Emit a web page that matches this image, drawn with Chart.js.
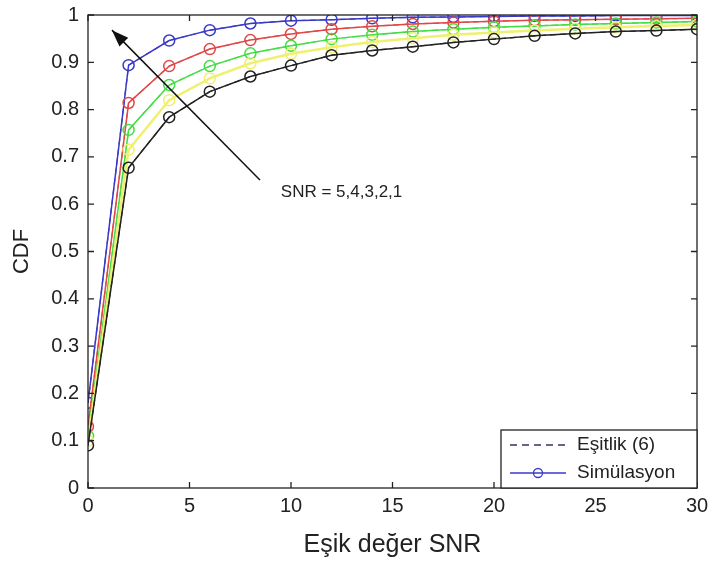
<!DOCTYPE html>
<html lang="tr">
<head>
    <meta charset="UTF-8">
    <title>CDF - Eşik değer SNR</title>
    <script src="https://cdn.jsdelivr.net/npm/chart.js"></script>
    <style>
        body { margin: 0; background: #fff; }
        #wrap { width: 710px; height: 565px; }
    </style>
</head>
<body>
    <div id="wrap"><canvas id="cdfChart" width="710" height="565"></canvas></div>

    <script>
        // threshold SNR values on the x axis
        const thresholds = [0, 2, 4, 6, 8, 10, 12, 14, 16, 18, 20, 22, 24, 26, 28, 30];
        // CDF per average SNR
        const snr5 = [0.18, 0.894, 0.946, 0.968, 0.982, 0.988, 0.990, 0.993, 0.995, 0.996, 0.997, 0.998, 0.998, 0.999, 0.999, 0.999];
        const snr4 = [0.13, 0.814, 0.892, 0.928, 0.947, 0.960, 0.970, 0.976, 0.981, 0.984, 0.987, 0.989, 0.990, 0.991, 0.992, 0.993];
        const snr3 = [0.11, 0.757, 0.852, 0.892, 0.919, 0.935, 0.949, 0.958, 0.965, 0.970, 0.974, 0.977, 0.980, 0.982, 0.984, 0.986];
        const snr2 = [0.10, 0.715, 0.820, 0.866, 0.898, 0.918, 0.932, 0.943, 0.951, 0.958, 0.963, 0.967, 0.971, 0.974, 0.977, 0.979];
        const snr1 = [0.09, 0.677, 0.784, 0.838, 0.870, 0.893, 0.915, 0.925, 0.933, 0.942, 0.949, 0.956, 0.961, 0.965, 0.967, 0.970];
        const xTicks = [0, 5, 10, 15, 20, 25, 30];
        const yTicks = [0, 0.1, 0.2, 0.3, 0.4, 0.5, 0.6, 0.7, 0.8, 0.9, 1];

        const curves = [
            { name: "SNR=1", vals: snr1, color: "#222222", width: 1.5 },
            { name: "SNR=2", vals: snr2, color: "#f0f070", width: 2.5 },
            { name: "SNR=3", vals: snr3, color: "#44dd44", width: 1.5 },
            { name: "SNR=4", vals: snr4, color: "#e04848", width: 1.5 },
            { name: "SNR=5", vals: snr5, color: "#3a3ac8", width: 1.5 }
        ];

        const toPoints = vals => thresholds.map((x, i) => ({ x: x, y: vals[i] }));

        let datasets = [];
        curves.forEach(c => {
            // Eşitlik (6) - dashed
            datasets.push({
                label: c.name + " eq",
                data: toPoints(c.vals),
                borderColor: c.color,
                borderWidth: 1.2,
                borderDash: [6, 4],
                pointRadius: 0,
                fill: false
            });
            // Simülasyon - solid with circles
            datasets.push({
                label: c.name + " sim",
                data: toPoints(c.vals),
                borderColor: c.color,
                borderWidth: c.width,
                pointRadius: 5.5,
                pointBorderWidth: 1.5,
                pointBorderColor: c.color,
                pointBackgroundColor: "rgba(0,0,0,0)",
                fill: false
            });
        });

        const font = "Arial, 'Liberation Sans', sans-serif";

        // box, inward ticks, arrow annotation and legend
        const extras = {
            id: "extras",
            afterDatasetsDraw(chart) {
                const ctx = chart.ctx;
                const a = chart.chartArea;
                const xs = chart.scales.x, ys = chart.scales.y;
                ctx.save();
                ctx.strokeStyle = "#222";
                ctx.lineWidth = 1.3;
                ctx.strokeRect(a.left, a.top, a.right - a.left, a.bottom - a.top);
                const tl = 6;
                ctx.beginPath();
                xTicks.forEach(v => {
                    const px = xs.getPixelForValue(v);
                    ctx.moveTo(px, a.bottom); ctx.lineTo(px, a.bottom - tl);
                    ctx.moveTo(px, a.top); ctx.lineTo(px, a.top + tl);
                });
                yTicks.forEach(v => {
                    const py = ys.getPixelForValue(v);
                    ctx.moveTo(a.left, py); ctx.lineTo(a.left + tl, py);
                    ctx.moveTo(a.right, py); ctx.lineTo(a.right - tl, py);
                });
                ctx.stroke();

                // arrow
                const x0 = xs.getPixelForValue(8.47), y0 = ys.getPixelForValue(0.651);
                const x1 = xs.getPixelForValue(1.18), y1 = ys.getPixelForValue(0.968);
                ctx.strokeStyle = "#111";
                ctx.lineWidth = 1.5;
                ctx.beginPath();
                ctx.moveTo(x0, y0); ctx.lineTo(x1, y1);
                ctx.stroke();
                const ang = Math.atan2(y1 - y0, x1 - x0);
                const hl = 18, hw = 0.35;
                ctx.fillStyle = "#111";
                ctx.beginPath();
                ctx.moveTo(x1, y1);
                ctx.lineTo(x1 - hl * Math.cos(ang - hw), y1 - hl * Math.sin(ang - hw));
                ctx.lineTo(x1 - hl * Math.cos(ang + hw), y1 - hl * Math.sin(ang + hw));
                ctx.closePath();
                ctx.fill();

                ctx.font = "17px " + font;
                ctx.fillStyle = "#222";
                ctx.textBaseline = "middle";
                ctx.textAlign = "left";
                ctx.fillText("SNR = 5,4,3,2,1", xs.getPixelForValue(9.5), ys.getPixelForValue(0.626));

                // legend box
                const lx = 501, ly = 430, lw = a.right - 501, lh = a.bottom - 430;
                ctx.fillStyle = "#fff";
                ctx.fillRect(lx, ly, lw, lh);
                ctx.strokeStyle = "#222";
                ctx.lineWidth = 1.3;
                ctx.strokeRect(lx, ly, lw, lh);
                ctx.strokeStyle = "#333366";
                ctx.lineWidth = 1.3;
                ctx.setLineDash([7, 5]);
                ctx.beginPath();
                ctx.moveTo(510, 445); ctx.lineTo(566, 445);
                ctx.stroke();
                ctx.setLineDash([]);
                ctx.strokeStyle = "#3a3ac8";
                ctx.beginPath();
                ctx.moveTo(510, 473); ctx.lineTo(566, 473);
                ctx.stroke();
                ctx.beginPath();
                ctx.arc(538, 473, 4.5, 0, Math.PI * 2);
                ctx.stroke();
                ctx.font = "19px " + font;
                ctx.fillStyle = "#222";
                ctx.fillText("Eşitlik (6)", 577, 445);
                ctx.fillText("Simülasyon", 577, 473);
                ctx.restore();
            }
        };

        new Chart(document.getElementById("cdfChart"), {
            type: "line",
            data: { datasets: datasets },
            options: {
                responsive: false,
                animation: false,
                layout: { padding: { top: 15, right: 13, left: 0, bottom: 0 } },
                plugins: { legend: { display: false }, tooltip: { enabled: false } },
                scales: {
                    x: {
                        type: "linear",
                        min: 0,
                        max: 30,
                        afterBuildTicks: s => { s.ticks = xTicks.map(v => ({ value: v })); },
                        afterFit: s => { s.height = 77; s.paddingRight = 13; s.paddingLeft = 0; },
                        grid: { display: false, drawTicks: false },
                        border: { display: false },
                        ticks: { color: "#222", font: { size: 20, family: font }, padding: 6 },
                        title: { display: true, text: "Eşik değer SNR", color: "#222", font: { size: 25, family: font }, padding: { top: 4, bottom: 5 } }
                    },
                    y: {
                        min: 0,
                        max: 1,
                        afterBuildTicks: s => { s.ticks = yTicks.map(v => ({ value: v })); },
                        afterFit: s => { s.width = 88; s.paddingTop = 0; s.paddingBottom = 0; },
                        grid: { display: false, drawTicks: false },
                        border: { display: false },
                        ticks: {
                            color: "#222",
                            font: { size: 20, family: font },
                            padding: 9,
                            callback: v => String(+v.toFixed(1))
                        },
                        title: { display: true, text: "CDF", color: "#222", font: { size: 22, family: font }, padding: { top: 9, bottom: 0 } }
                    }
                }
            },
            plugins: [extras]
        });
    </script>
</body>
</html>
